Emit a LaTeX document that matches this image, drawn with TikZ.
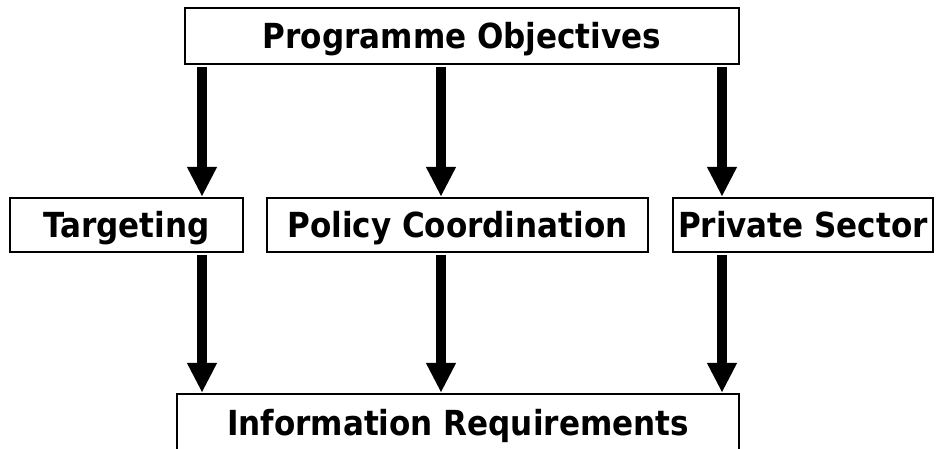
\documentclass[tikz,border=0pt]{standalone}
\usepackage{fontspec}
\setmainfont{DejaVu Sans Condensed}
\usetikzlibrary{arrows.meta}
\tikzset{
  box/.style={draw=black, line width=2.5pt, fill=white, inner sep=0pt, text height=25pt, text depth=0pt, font=\fontsize{34.5}{36}\selectfont\bfseries},
  arr/.style={line width=10pt, -{Triangle[width=28pt,length=30pt]}},
}
\begin{document}
\begin{tikzpicture}[x=1pt,y=-1pt]
\useasboundingbox (0,0) rectangle (936,448);
\node[box, minimum width=554pt, minimum height=56pt] (po) at (462,36) {Programme Objectives};
\node[box, minimum width=233pt, minimum height=54pt] (tg) at (126.5,225) {Targeting};
\node[box, minimum width=381pt, minimum height=54pt] (pc) at (457.5,225) {Policy Coordination};
\node[box, minimum width=260pt, minimum height=54pt] (ps) at (803,225) {Private Sector};
\node[box, minimum width=562pt, minimum height=57pt] (ir) at (458,422.5) {Information Requirements};
\coordinate (c1) at (202,0);
\coordinate (c2) at (441,0);
\coordinate (c3) at (722,0);
\draw[arr] ([yshift=-1.5pt]po.south -| c1) -- (tg.north -| c1);
\draw[arr] ([yshift=-1.5pt]po.south -| c2) -- (pc.north -| c2);
\draw[arr] ([yshift=-1.5pt]po.south -| c3) -- (ps.north -| c3);
\draw[arr] ([yshift=-1.5pt]tg.south -| c1) -- (ir.north -| c1);
\draw[arr] ([yshift=-1.5pt]pc.south -| c2) -- (ir.north -| c2);
\draw[arr] ([yshift=-1.5pt]ps.south -| c3) -- (ir.north -| c3);
\end{tikzpicture}
\end{document}
